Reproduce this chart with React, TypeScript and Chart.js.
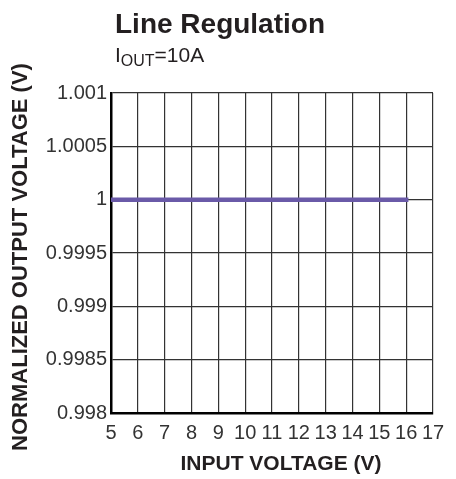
import React, { useEffect, useRef } from "react";
import { Chart, registerables } from "chart.js";

Chart.register(...registerables);

const inputVoltage = [5, 6, 7, 8, 9, 10, 11, 12, 13, 14, 15, 16];
const normalizedOutput = [1, 1, 1, 1, 1, 1, 1, 1, 1, 1, 1, 1];
const xTicks = [5, 6, 7, 8, 9, 10, 11, 12, 13, 14, 15, 16, 17];
const yTicks = [0.998, 0.9985, 0.999, 0.9995, 1, 1.0005, 1.001];
const yTickLabels = ["0.998", "0.9985", "0.999", "0.9995", "1", "1.0005", "1.001"];

const FONT = '"Liberation Sans", Arial, sans-serif';

const textPlugin = {
  id: "textPlugin",
  afterDraw(chart: any) {
    const ctx = chart.ctx;
    ctx.save();
    ctx.fillStyle = "#231f20";
    ctx.textBaseline = "alphabetic";
    ctx.textAlign = "left";
    ctx.font = `bold 28px ${FONT}`;
    ctx.fillText("Line Regulation", 115, 33);

    ctx.font = `21px ${FONT}`;
    ctx.fillText("I", 115, 62);
    let x = 115 + ctx.measureText("I").width;
    ctx.font = `16px ${FONT}`;
    ctx.fillText("OUT", x, 66);
    x += ctx.measureText("OUT").width;
    ctx.font = `21px ${FONT}`;
    ctx.fillText("=10A", x, 62);

    ctx.textAlign = "center";
    ctx.textBaseline = "middle";
    ctx.font = `bold 21px ${FONT}`;
    ctx.fillText("INPUT VOLTAGE (V)", 281, 464);

    ctx.translate(21, 257);
    ctx.rotate(-Math.PI / 2);
    ctx.font = `bold 22px ${FONT}`;
    ctx.fillText("NORMALIZED OUTPUT VOLTAGE (V)", 0, 0);
    ctx.restore();
  },
};

export default function App() {
  const ref = useRef<HTMLCanvasElement | null>(null);
  useEffect(() => {
    if (!ref.current) return;
    const chart = new Chart(ref.current, {
      type: "line",
      data: {
        datasets: [
          {
            data: inputVoltage.map((v, i) => ({ x: v, y: normalizedOutput[i] })),
            borderColor: "#6a5aa8",
            borderWidth: 4.5,
            borderCapStyle: "square",
            pointRadius: 0,
            tension: 0,
          },
        ],
      },
      options: {
        animation: false,
        responsive: false,
        maintainAspectRatio: false,
        layout: { padding: { left: 0, top: 93, right: 23, bottom: 0 } },
        plugins: { legend: { display: false }, tooltip: { enabled: false }, title: { display: false } },
        scales: {
          x: {
            type: "linear",
            min: 5,
            max: 17,
            afterFit(scale: any) {
              scale.height = 66;
            },
            afterBuildTicks(scale: any) {
              scale.ticks = xTicks.map((v) => ({ value: v }));
            },
            ticks: {
              autoSkip: false,
              maxRotation: 0,
              padding: 8,
              color: "#333333",
              font: { family: FONT, size: 20 },
              callback: (v: any) => String(v),
            },
            grid: { color: "#333333", lineWidth: 1.2, drawTicks: false },
            border: { color: "#000000", width: 2.5 },
          },
          y: {
            type: "linear",
            min: 0.998,
            max: 1.001,
            afterFit(scale: any) {
              scale.width = 111;
            },
            afterBuildTicks(scale: any) {
              scale.ticks = yTicks.map((v) => ({ value: v }));
            },
            ticks: {
              autoSkip: false,
              padding: 4,
              color: "#333333",
              font: { family: FONT, size: 20 },
              callback: (v: any) => {
                const i = yTicks.findIndex((t) => Math.abs(t - v) < 1e-9);
                return i >= 0 ? yTickLabels[i] : "";
              },
            },
            grid: { color: "#333333", lineWidth: 1.2, drawTicks: false },
            border: { color: "#000000", width: 2.5 },
          },
        },
      },
      plugins: [textPlugin],
    });
    return () => chart.destroy();
  }, []);
  return (
    <div style={{ position: "fixed", left: 0, top: 0, width: 456, height: 479, background: "#fff" }}>
      <canvas ref={ref} width={456} height={479} style={{ width: 456, height: 479 }} />
    </div>
  );
}
